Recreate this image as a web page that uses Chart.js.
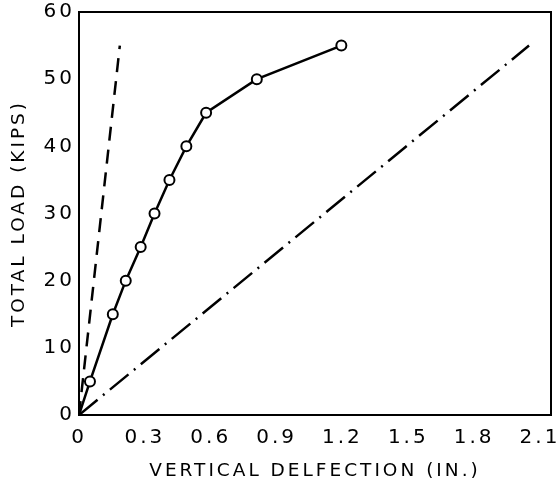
<!DOCTYPE html>
<html lang="en">

<head>
    <meta charset="UTF-8">
    <script src="https://cdn.jsdelivr.net/npm/chart.js@4.4.0/dist/chart.umd.min.js"></script>
    <title>Load vs deflection</title>
    <style>
        html, body { margin: 0; padding: 0; background: #fff; }
        .container { width: 558px; height: 482px; }
    </style>
</head>

<body>
    <div class="container">
        <canvas id="myChart" width="558" height="482"></canvas>
    </div>

    <script>
        // measured test points (deflection in., load kips)
        const deflection = [0, 0.05, 0.154, 0.213, 0.281, 0.344, 0.412, 0.489, 0.579, 0.81, 1.195];
        const load = [0, 5, 15, 20, 25, 30, 35, 40, 45, 50, 55];
        // dashed reference line
        const dashX = [0, 0.186];
        const dashY = [0, 55];
        // dash-dot reference line
        const dashDotX = [0, 2.05];
        const dashDotY = [0, 55];
        const xTicks = [0, 0.3, 0.6, 0.9, 1.2, 1.5, 1.8, 2.1];
        const yTicks = [0, 10, 20, 30, 40, 50, 60];

        const toPts = (xs, ys) => xs.map((x, i) => ({ x: x, y: ys[i] }));
        const font = { family: '"DejaVu Sans", sans-serif', size: 20 };
        const titleFont = { family: '"DejaVu Sans", sans-serif', size: 18.5 };

        // old typewriter-ish wide spacing of the lettering
        const spacingPlugin = {
            id: 'spacing',
            beforeLayout(chart) { chart.ctx.letterSpacing = '3px'; },
            beforeDraw(chart) { chart.ctx.letterSpacing = '3px'; }
        };

        const boxPlugin = {
            id: 'box',
            beforeDatasetsDraw(chart) {
                const { ctx, chartArea: a } = chart;
                ctx.save();
                ctx.strokeStyle = '#000';
                ctx.lineWidth = 2;
                ctx.strokeRect(a.left, a.top, a.right - a.left, a.bottom - a.top);
                ctx.restore();
            }
        };

        new Chart(document.getElementById('myChart'), {
            type: 'scatter',
            data: {
                datasets: [{
                    data: toPts(deflection, load),
                    showLine: true,
                    borderColor: '#000',
                    borderWidth: 2.5,
                    pointRadius: deflection.map((d, i) => i === 0 ? 0 : 5),
                    pointBackgroundColor: '#fff',
                    pointBorderColor: '#000',
                    pointBorderWidth: 2
                }, {
                    data: toPts(dashX, dashY),
                    showLine: true,
                    borderColor: '#000',
                    borderWidth: 2.5,
                    borderDash: [14, 9],
                    pointRadius: 0
                }, {
                    data: toPts(dashDotX, dashDotY),
                    showLine: true,
                    borderColor: '#000',
                    borderWidth: 2.5,
                    borderDash: [24, 7, 2, 7],
                    pointRadius: 0
                }]
            },
            options: {
                responsive: false,
                animation: false,
                layout: { padding: { top: 12, right: 3, left: 0, bottom: 0 } },
                plugins: { legend: { display: false }, tooltip: { enabled: false } },
                scales: {
                    x: {
                        type: 'linear',
                        min: 0,
                        max: 2.15,
                        grid: { display: false, drawTicks: false },
                        border: { display: false },
                        afterBuildTicks: s => { s.ticks = xTicks.map(v => ({ value: v })); },
                        afterFit: s => { s.height = 67; s.paddingLeft = 0; s.paddingRight = 0; },
                        ticks: {
                            color: '#000',
                            font: font,
                            padding: 11,
                            maxRotation: 0,
                            autoSkip: false,
                            callback: v => v === 0 ? '0' : v.toFixed(1)
                        },
                        title: {
                            display: true,
                            text: 'VERTICAL DELFECTION (IN.)',
                            color: '#000',
                            font: titleFont,
                            padding: { top: 2, bottom: 0 }
                        }
                    },
                    y: {
                        min: 0,
                        max: 60,
                        grid: { display: false, drawTicks: false },
                        border: { display: false },
                        afterBuildTicks: s => { s.ticks = yTicks.map(v => ({ value: v })); },
                        afterFit: s => { s.width = 79; s.paddingTop = 0; s.paddingBottom = 0; },
                        ticks: {
                            color: '#000',
                            font: font,
                            padding: 4
                        },
                        title: {
                            display: true,
                            text: 'TOTAL LOAD (KIPS)',
                            color: '#000',
                            font: titleFont,
                            padding: { top: 8, bottom: 4 }
                        }
                    }
                }
            },
            plugins: [spacingPlugin, boxPlugin]
        });
    </script>
</body>

</html>
